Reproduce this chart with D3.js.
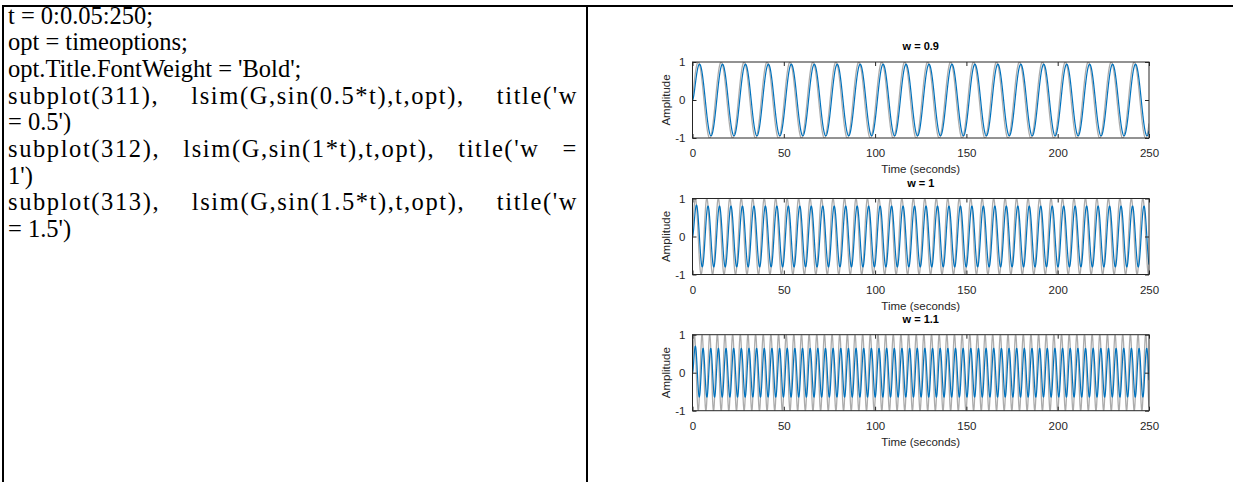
<!DOCTYPE html>
<html>
<head>
<meta charset="utf-8">
<script src="https://cdn.jsdelivr.net/npm/d3@7"></script>
<style>
body { margin: 0; background: #fff; }
#page { position: relative; width: 1233px; height: 482px; overflow: hidden; }
#page svg { position: absolute; left: 0; top: 0; }
#code { position: absolute; left: 8px; top: 2.5px; width: 570px;
        font-family: "Liberation Serif", "Times New Roman", serif;
        font-size: 24.5px; line-height: 26.7px; color: #000; }
#code .just { text-align: justify; text-align-last: justify; letter-spacing: 1.6px; }
</style>
</head>
<body>
<div id="page"><div id="code"></div></div>
<script>
// left cell: the MATLAB snippet, one entry per printed line (true = justified line)
var codeLines = [
    ["t = 0:0.05:250;", false],
    ["opt = timeoptions;", false],
    ["opt.Title.FontWeight = 'Bold';", false],
    ["subplot(311), lsim(G,sin(0.5*t),t,opt), title('w", true],
    ["= 0.5')", false],
    ["subplot(312), lsim(G,sin(1*t),t,opt), title('w =", true],
    ["1')", false],
    ["subplot(313), lsim(G,sin(1.5*t),t,opt), title('w", true],
    ["= 1.5')", false]
];

// right cell: three lsim plots
var titles = ["w = 0.9", "w = 1", "w = 1.1"];
var inputFreqs = [0.5, 1, 1.5];        // rad/s of the grey input sine
var outputGains = [0.94, 0.8, 0.64];   // steady amplitude of blue response
var phaseLags = [0.36, 0.64, 0.84];    // rad, blue behind grey
var timeStep = 0.05, timeEnd = 250;    // t = 0:0.05:250
var xTicks = [0, 50, 100, 150, 200, 250];
var yTicks = [-1, 0, 1];

function drawCode() {
    d3.select("#code").selectAll("div")
        .data(codeLines)
        .enter().append("div")
        .attr("class", function (d) { return d[1] ? "just" : null; })
        .text(function (d) { return d[0]; });
}

function drawPlots() {
    var svg = d3.select("#page").insert("svg", "#code")
        .attr("width", 1233).attr("height", 482);

    // table borders
    svg.append("line").attr("x1", 3).attr("x2", 1233).attr("y1", 6).attr("y2", 6)
        .attr("stroke", "#000").attr("stroke-width", 2);
    svg.append("line").attr("x1", 3).attr("x2", 3).attr("y1", 5).attr("y2", 482)
        .attr("stroke", "#000").attr("stroke-width", 2);
    svg.append("line").attr("x1", 587).attr("x2", 587).attr("y1", 5).attr("y2", 482)
        .attr("stroke", "#000").attr("stroke-width", 2);

    var left = 692.5, right = 1149;
    var plotTops = [62, 198.5, 334.7];
    var plotHeight = 76;
    var axisColor = "#262626";
    var font = "'Liberation Sans', Arial, sans-serif";
    var plain = function (d) { return String(d); };

    var times = d3.range(0, timeEnd + timeStep / 2, timeStep);
    var x = d3.scaleLinear().domain([0, timeEnd]).range([left, right]);

    titles.forEach(function (title, i) {
        var yTop = plotTops[i], yBottom = yTop + plotHeight;
        var y = d3.scaleLinear().domain([-1, 1]).range([yBottom, yTop]);
        var w = inputFreqs[i], g = outputGains[i], phi = phaseLags[i];
        var tau = Math.tan(phi) / w;

        var input = times.map(function (t) { return { t: t, v: Math.sin(w * t) }; });
        var output = times.map(function (t) {
            return { t: t, v: g * Math.sin(w * t - phi) + g * Math.sin(phi) * Math.exp(-t / tau) };
        });

        var line = d3.line()
            .x(function (d) { return x(d.t); })
            .y(function (d) { return y(d.v); });

        svg.append("clipPath").attr("id", "clip" + i)
            .append("rect").attr("x", left).attr("y", yTop)
            .attr("width", right - left).attr("height", plotHeight);

        var plot = svg.append("g").attr("clip-path", "url(#clip" + i + ")");
        plot.append("path").datum(input).attr("d", line)
            .attr("fill", "none").attr("stroke", "#acacac").attr("stroke-width", 1.3);
        plot.append("path").datum(output).attr("d", line)
            .attr("fill", "none").attr("stroke", "#0072bd").attr("stroke-width", 1.2);

        // axes, ticks pointing inward, mirrored on top and right
        svg.append("g").attr("transform", "translate(0," + yBottom + ")")
            .call(d3.axisBottom(x).tickValues(xTicks).tickFormat(plain)
                .tickSizeInner(-4).tickSizeOuter(0).tickPadding(11));
        svg.append("g").attr("transform", "translate(0," + yTop + ")")
            .call(d3.axisTop(x).tickValues(xTicks).tickSizeInner(-4).tickSizeOuter(0).tickFormat(""));
        svg.append("g").attr("transform", "translate(" + left + ",0)")
            .call(d3.axisLeft(y).tickValues(yTicks).tickFormat(plain)
                .tickSizeInner(-4).tickSizeOuter(0).tickPadding(7));
        svg.append("g").attr("transform", "translate(" + right + ",0)")
            .call(d3.axisRight(y).tickValues(yTicks).tickSizeInner(-4).tickSizeOuter(0).tickFormat(""));

        svg.append("rect").attr("x", left).attr("y", yTop)
            .attr("width", right - left).attr("height", plotHeight)
            .attr("fill", "none").attr("stroke", axisColor).attr("stroke-width", 1);

        svg.append("text").attr("x", (left + right) / 2).attr("y", yTop - 12)
            .attr("text-anchor", "middle").attr("font-weight", "bold")
            .attr("font-size", 11).attr("font-family", font).attr("fill", "#000")
            .text(title);
        svg.append("text").attr("x", (left + right) / 2).attr("y", yBottom + 35)
            .attr("text-anchor", "middle")
            .attr("font-size", 11.5).attr("font-family", font).attr("fill", axisColor)
            .text("Time (seconds)");
        svg.append("text")
            .attr("transform", "translate(670," + (yTop + plotHeight / 2) + ") rotate(-90)")
            .attr("text-anchor", "middle")
            .attr("font-size", 11.5).attr("font-family", font).attr("fill", axisColor)
            .text("Amplitude");
    });

    svg.selectAll(".domain").remove();
    svg.selectAll(".tick line").attr("stroke", axisColor);
    svg.selectAll(".tick text").attr("font-size", 11.5).attr("font-family", font).attr("fill", axisColor);
}

drawCode();
drawPlots();
</script>
</body>
</html>
